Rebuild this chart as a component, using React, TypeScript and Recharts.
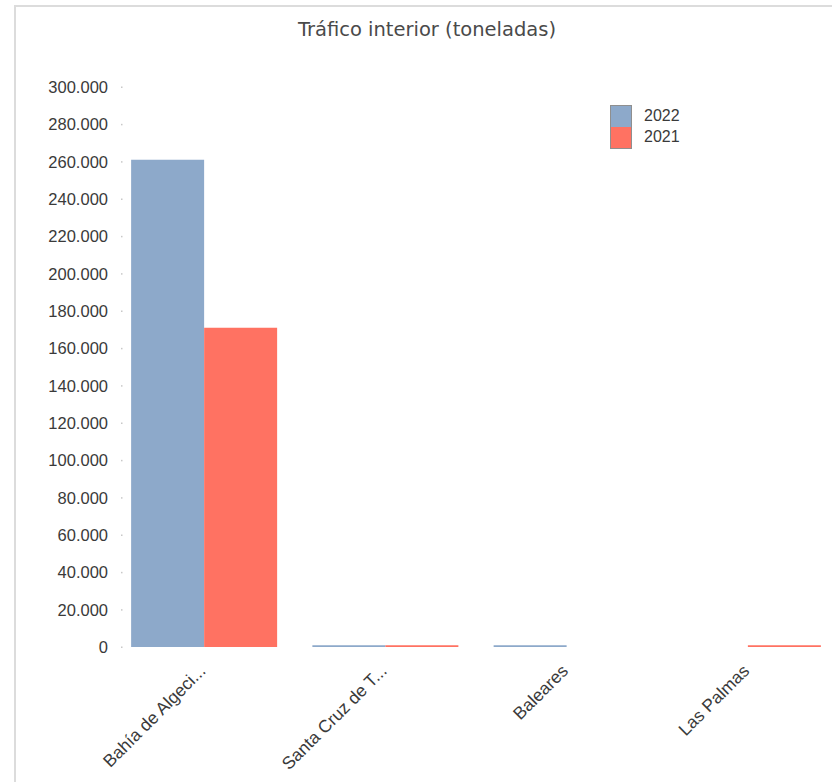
import React from "react";
import { BarChart, Bar, XAxis, YAxis, Legend } from "recharts";

const categories = ["Bahía de Algeci...", "Santa Cruz de T...", "Baleares", "Las Palmas"];
const values2022 = [261000, 1000, 1000, 0];
const values2021 = [171000, 1000, 0, 1000];
const yTicks = [0, 20000, 40000, 60000, 80000, 100000, 120000, 140000, 160000, 180000, 200000, 220000, 240000, 260000, 280000, 300000];
const seriesNames = ["2022", "2021"];
const seriesColors = ["#8DA9CA", "#FF7262"];

const data = categories.map((c, i) => ({
  name: c,
  "2022": values2022[i],
  "2021": values2021[i],
}));

const FONT = "'Liberation Sans', Arial, sans-serif";

const fmt = (v: number) => v.toString().replace(/\B(?=(\d{3})+(?!\d))/g, ".");

const YTick = (props: any) => {
  const { y, payload } = props;
  return (
    <g>
      <text x={108} y={y} textAnchor="end" dominantBaseline="central" fontSize={16.5} fill="#3a3a3a" fontFamily={FONT}>
        {fmt(payload.value)}
      </text>
      <rect x={121} y={y - 0.5} width={1.5} height={1.5} fill="#c8c8c8" />
    </g>
  );
};

const XTick = (props: any) => {
  const { x, payload } = props;
  const ax = x + 3;
  const ay = 672;
  return (
    <text x={ax} y={ay} textAnchor="end" fontSize={17.5} fill="#3a3a3a" fontFamily={FONT} transform={`rotate(-45 ${ax} ${ay})`}>
      {payload.value}
    </text>
  );
};

const LegendContent = () => (
  <div style={{ position: "absolute", left: 0, top: 0, width: 100, fontFamily: FONT, fontSize: 16, color: "#3a3a3a" }}>
    <div style={{ border: "1px solid #8f8f8f", width: 20 }}>
      {seriesColors.map((c) => (
        <div key={c} style={{ width: 20, height: 21, background: c }} />
      ))}
    </div>
    {seriesNames.map((n, i) => (
      <div key={n} style={{ position: "absolute", left: 34, top: 2 + i * 21, lineHeight: "18px" }}>
        {n}
      </div>
    ))}
  </div>
);

export default function App() {
  return (
    <div style={{ position: "absolute", left: 0, top: 0, width: 832, height: 782, overflow: "hidden", background: "#fff" }}>
      <div style={{ position: "absolute", left: 14, top: 5, width: 900, height: 900, borderLeft: "2px solid #dcdcdc", borderTop: "2px solid #dcdcdc" }} />
      <div style={{ position: "absolute", left: 177, width: 500, top: 17, textAlign: "center", fontFamily: "'DejaVu Sans', sans-serif", fontSize: 19.5, color: "#4a4a4a", lineHeight: "26px" }}>
        Tráfico interior (toneladas)
      </div>
      <div style={{ position: "absolute", left: 0, top: 0 }}>
        <BarChart width={850} height={782} data={data} margin={{ top: 87, right: 12, bottom: 0, left: 0 }} barGap={0}>
          <XAxis dataKey="name" height={135} axisLine={false} tickLine={false} tick={<XTick />} interval={0} />
          <YAxis width={113} domain={[0, 300000]} ticks={yTicks} axisLine={false} tickLine={false} tick={<YTick />} interval={0} />
          <Legend
            content={<LegendContent />}
            wrapperStyle={{ position: "absolute", left: 610, top: 105, width: 0, height: 0, overflow: "visible" }}
          />
          <Bar dataKey="2022" fill={seriesColors[0]} isAnimationActive={false} />
          <Bar dataKey="2021" fill={seriesColors[1]} isAnimationActive={false} />
        </BarChart>
      </div>
    </div>
  );
}
